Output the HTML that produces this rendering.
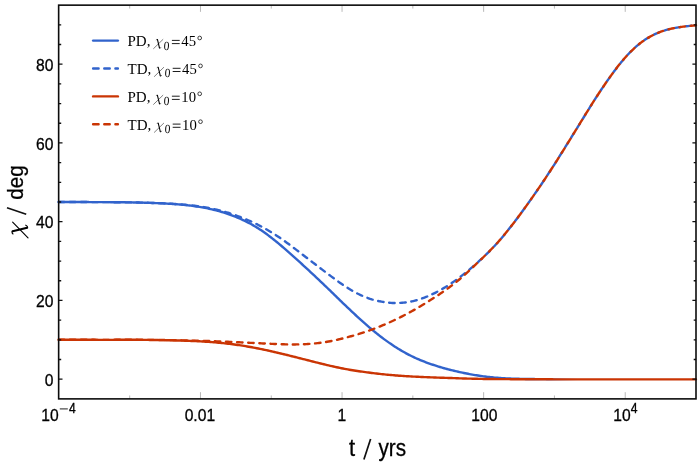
<!DOCTYPE html>
<html><head><meta charset="utf-8"><title>chart</title>
<style>
html,body{margin:0;padding:0;background:#fff;}
svg{display:block;will-change:transform;font-family:"Liberation Sans",sans-serif;}
.c{fill:none;stroke-width:2.4;stroke-linecap:round;stroke-linejoin:round;}
.d{stroke-dasharray:5.5 5.65;}
.yt{stroke:#111;stroke-width:1.3;fill:none;}
.xt{stroke:#8a8a8a;stroke-width:0.6;fill:none;}
.tl{fill:#000;stroke:#000;stroke-width:0.3px;}
.lg{font-family:"Liberation Serif",serif;fill:#000;}
.al{fill:#000;stroke:#000;stroke-width:0.3px;}
</style></head><body>
<svg width="698" height="463" viewBox="0 0 698 463">
<rect x="0" y="0" width="698" height="463" fill="#fff"/>


<defs><linearGradient id="bg" gradientUnits="userSpaceOnUse" x1="535" y1="0" x2="578" y2="0"><stop offset="0" stop-color="#3163cc" stop-opacity="1"/><stop offset="1" stop-color="#3163cc" stop-opacity="0"/></linearGradient></defs>
<path d="M58.70,202.00 L60.11,202.00 L61.51,202.00 L62.92,202.01 L64.33,202.01 L65.73,202.01 L67.14,202.02 L68.55,202.02 L69.95,202.02 L71.36,202.03 L72.77,202.03 L74.17,202.03 L75.58,202.04 L76.99,202.04 L78.39,202.04 L79.80,202.05 L81.21,202.05 L82.62,202.06 L84.02,202.06 L85.43,202.06 L86.84,202.07 L88.24,202.07 L89.65,202.08 L91.06,202.08 L92.46,202.09 L93.87,202.09 L95.28,202.10 L96.68,202.11 L98.09,202.11 L99.50,202.12 L100.90,202.13 L102.31,202.13 L103.72,202.14 L105.12,202.15 L106.53,202.16 L107.94,202.16 L109.34,202.17 L110.75,202.18 L112.16,202.19 L113.56,202.21 L114.97,202.22 L116.38,202.23 L117.78,202.24 L119.19,202.26 L120.60,202.27 L122.00,202.29 L123.41,202.30 L124.82,202.32 L126.22,202.34 L127.63,202.36 L129.04,202.38 L130.45,202.40 L131.85,202.42 L133.26,202.45 L134.67,202.47 L136.07,202.50 L137.48,202.53 L138.89,202.56 L140.29,202.59 L141.70,202.62 L143.11,202.66 L144.51,202.70 L145.92,202.74 L147.33,202.78 L148.73,202.83 L150.14,202.88 L151.55,202.93 L152.95,202.98 L154.36,203.04 L155.77,203.10 L157.17,203.16 L158.58,203.22 L159.99,203.29 L161.39,203.35 L162.80,203.42 L164.21,203.50 L165.61,203.57 L167.02,203.65 L168.43,203.74 L169.83,203.82 L171.24,203.91 L172.65,204.01 L174.05,204.10 L175.46,204.20 L176.87,204.31 L178.28,204.42 L179.68,204.53 L181.09,204.65 L182.50,204.78 L183.90,204.91 L185.31,205.05 L186.72,205.20 L188.12,205.35 L189.53,205.51 L190.94,205.68 L192.34,205.86 L193.75,206.04 L195.16,206.24 L196.56,206.44 L197.97,206.66 L199.38,206.88 L200.78,207.11 L202.19,207.36 L203.60,207.61 L205.00,207.88 L206.41,208.15 L207.82,208.44 L209.22,208.74 L210.63,209.05 L212.04,209.37 L213.44,209.71 L214.85,210.05 L216.26,210.41 L217.66,210.78 L219.07,211.17 L220.48,211.57 L221.88,211.98 L223.29,212.41 L224.70,212.85 L226.11,213.31 L227.51,213.78 L228.92,214.27 L230.33,214.77 L231.73,215.30 L233.14,215.83 L234.55,216.39 L235.95,216.95 L237.36,217.54 L238.77,218.14 L240.17,218.76 L241.58,219.39 L242.99,220.04 L244.39,220.70 L245.80,221.38 L247.21,222.09 L248.61,222.81 L250.02,223.55 L251.43,224.32 L252.83,225.11 L254.24,225.92 L255.65,226.76 L257.05,227.63 L258.46,228.51 L259.87,229.43 L261.27,230.36 L262.68,231.32 L264.09,232.30 L265.49,233.30 L266.90,234.32 L268.31,235.36 L269.72,236.42 L271.12,237.50 L272.53,238.60 L273.94,239.72 L275.34,240.85 L276.75,242.00 L278.16,243.16 L279.56,244.34 L280.97,245.53 L282.38,246.72 L283.78,247.93 L285.19,249.15 L286.60,250.37 L288.00,251.61 L289.41,252.85 L290.82,254.10 L292.22,255.35 L293.63,256.61 L295.04,257.87 L296.44,259.14 L297.85,260.41 L299.26,261.69 L300.66,262.96 L302.07,264.25 L303.48,265.53 L304.88,266.82 L306.29,268.11 L307.70,269.41 L309.10,270.71 L310.51,272.01 L311.92,273.32 L313.32,274.64 L314.73,275.96 L316.14,277.28 L317.55,278.61 L318.95,279.94 L320.36,281.27 L321.77,282.61 L323.17,283.96 L324.58,285.31 L325.99,286.66 L327.39,288.01 L328.80,289.37 L330.21,290.73 L331.61,292.10 L333.02,293.47 L334.43,294.83 L335.83,296.20 L337.24,297.57 L338.65,298.94 L340.05,300.30 L341.46,301.66 L342.87,303.02 L344.27,304.37 L345.68,305.72 L347.09,307.07 L348.49,308.40 L349.90,309.74 L351.31,311.06 L352.71,312.38 L354.12,313.70 L355.53,315.00 L356.93,316.30 L358.34,317.60 L359.75,318.88 L361.15,320.16 L362.56,321.42 L363.97,322.68 L365.38,323.92 L366.78,325.16 L368.19,326.38 L369.60,327.59 L371.00,328.78 L372.41,329.97 L373.82,331.13 L375.22,332.28 L376.63,333.42 L378.04,334.54 L379.44,335.64 L380.85,336.73 L382.26,337.79 L383.66,338.84 L385.07,339.88 L386.48,340.89 L387.88,341.89 L389.29,342.87 L390.70,343.84 L392.10,344.79 L393.51,345.72 L394.92,346.64 L396.32,347.54 L397.73,348.42 L399.14,349.28 L400.54,350.13 L401.95,350.96 L403.36,351.77 L404.76,352.56 L406.17,353.34 L407.58,354.09 L408.98,354.83 L410.39,355.54 L411.80,356.24 L413.21,356.92 L414.61,357.58 L416.02,358.22 L417.43,358.84 L418.83,359.45 L420.24,360.05 L421.65,360.63 L423.05,361.19 L424.46,361.74 L425.87,362.27 L427.27,362.80 L428.68,363.31 L430.09,363.80 L431.49,364.29 L432.90,364.76 L434.31,365.23 L435.71,365.68 L437.12,366.13 L438.53,366.57 L439.93,367.00 L441.34,367.41 L442.75,367.82 L444.15,368.23 L445.56,368.62 L446.97,369.00 L448.37,369.38 L449.78,369.74 L451.19,370.10 L452.59,370.45 L454.00,370.79 L455.41,371.12 L456.82,371.44 L458.22,371.75 L459.63,372.06 L461.04,372.37 L462.44,372.66 L463.85,372.95 L465.26,373.24 L466.66,373.52 L468.07,373.79 L469.48,374.06 L470.88,374.32 L472.29,374.58 L473.70,374.82 L475.10,375.07 L476.51,375.30 L477.92,375.53 L479.32,375.74 L480.73,375.95 L482.14,376.15 L483.54,376.34 L484.95,376.52 L486.36,376.70 L487.76,376.86 L489.17,377.02 L490.58,377.17 L491.98,377.31 L493.39,377.45 L494.80,377.58 L496.20,377.70 L497.61,377.81 L499.02,377.91 L500.42,378.01 L501.83,378.10 L503.24,378.19 L504.65,378.27 L506.05,378.34 L507.46,378.41 L508.87,378.47 L510.27,378.53 L511.68,378.59 L513.09,378.64 L514.49,378.68 L515.90,378.72 L517.31,378.76 L518.71,378.80 L520.12,378.83 L521.53,378.86 L522.93,378.89 L524.34,378.91 L525.75,378.94 L527.15,378.96 L528.56,378.99 L529.97,379.01 L531.37,379.03 L532.78,379.05 L534.19,379.06 L535.59,379.08 L537.00,379.10 L538.41,379.11 L539.81,379.12 L541.22,379.14 L542.63,379.15 L544.03,379.16 L545.44,379.17 L546.85,379.18 L548.25,379.19 L549.66,379.20 L551.07,379.21 L552.48,379.22 L553.88,379.23 L555.29,379.24 L556.70,379.25 L558.10,379.25 L559.51,379.26 L560.92,379.27 L562.32,379.27 L563.73,379.28 L565.14,379.29 L566.54,379.29 L567.95,379.30 L569.36,379.30 L570.76,379.31 L572.17,379.31 L573.58,379.32 L574.98,379.32 L576.39,379.32 L577.80,379.33 L579.20,379.33 L580.61,379.33 L582.02,379.33 L583.42,379.34 L584.83,379.34 L586.24,379.34 L587.64,379.34 L589.05,379.34 L590.46,379.35 L591.86,379.35 L593.27,379.35 L594.68,379.35 L596.08,379.35 L597.49,379.35 L598.90,379.35 L600.31,379.35 L601.71,379.35 L603.12,379.35 L604.53,379.35 L605.93,379.35 L607.34,379.35 L608.75,379.35 L610.15,379.35 L611.56,379.35 L612.97,379.35 L614.37,379.35 L615.78,379.35 L617.19,379.35 L618.59,379.35 L620.00,379.35" stroke="url(#bg)" class="c"/>
<path d="M58.70,202.00 L60.30,202.00 L61.89,202.00 L63.49,202.01 L65.09,202.01 L66.69,202.01 L68.28,202.02 L69.88,202.02 L71.48,202.03 L73.08,202.03 L74.67,202.03 L76.27,202.04 L77.87,202.04 L79.46,202.05 L81.06,202.05 L82.66,202.06 L84.26,202.06 L85.85,202.07 L87.45,202.07 L89.05,202.08 L90.64,202.08 L92.24,202.09 L93.84,202.09 L95.44,202.10 L97.03,202.11 L98.63,202.11 L100.23,202.12 L101.83,202.13 L103.42,202.14 L105.02,202.15 L106.62,202.16 L108.21,202.17 L109.81,202.18 L111.41,202.19 L113.01,202.20 L114.60,202.22 L116.20,202.23 L117.80,202.25 L119.40,202.26 L120.99,202.28 L122.59,202.30 L124.19,202.32 L125.78,202.34 L127.38,202.36 L128.98,202.38 L130.58,202.41 L132.17,202.43 L133.77,202.46 L135.37,202.49 L136.96,202.52 L138.56,202.55 L140.16,202.58 L141.76,202.62 L143.35,202.66 L144.95,202.70 L146.55,202.74 L148.15,202.78 L149.74,202.83 L151.34,202.88 L152.94,202.93 L154.53,202.99 L156.13,203.04 L157.73,203.10 L159.33,203.17 L160.92,203.23 L162.52,203.30 L164.12,203.37 L165.72,203.45 L167.31,203.53 L168.91,203.62 L170.51,203.70 L172.10,203.80 L173.70,203.90 L175.30,204.00 L176.90,204.11 L178.49,204.22 L180.09,204.34 L181.69,204.47 L183.28,204.60 L184.88,204.74 L186.48,204.89 L188.08,205.05 L189.67,205.21 L191.27,205.39 L192.87,205.58 L194.47,205.77 L196.06,205.98 L197.66,206.20 L199.26,206.43 L200.85,206.67 L202.45,206.92 L204.05,207.18 L205.65,207.46 L207.24,207.75 L208.84,208.05 L210.44,208.37 L212.04,208.70 L213.63,209.04 L215.23,209.39 L216.83,209.76 L218.42,210.15 L220.02,210.54 L221.62,210.96 L223.22,211.39 L224.81,211.83 L226.41,212.29 L228.01,212.77 L229.61,213.26 L231.20,213.78 L232.80,214.31 L234.40,214.86 L235.99,215.42 L237.59,216.01 L239.19,216.60 L240.79,217.21 L242.38,217.84 L243.98,218.48 L245.58,219.13 L247.17,219.81 L248.77,220.49 L250.37,221.20 L251.97,221.92 L253.56,222.66 L255.16,223.42 L256.76,224.20 L258.36,225.00 L259.95,225.82 L261.55,226.66 L263.15,227.52 L264.74,228.40 L266.34,229.30 L267.94,230.22 L269.54,231.17 L271.13,232.14 L272.73,233.13 L274.33,234.14 L275.93,235.17 L277.52,236.22 L279.12,237.29 L280.72,238.38 L282.31,239.49 L283.91,240.61 L285.51,241.75 L287.11,242.91 L288.70,244.08 L290.30,245.26 L291.90,246.45 L293.49,247.66 L295.09,248.86 L296.69,250.08 L298.29,251.30 L299.88,252.52 L301.48,253.75 L303.08,254.98 L304.68,256.20 L306.27,257.43 L307.87,258.66 L309.47,259.89 L311.06,261.12 L312.66,262.34 L314.26,263.56 L315.86,264.78 L317.45,265.99 L319.05,267.21 L320.65,268.42 L322.25,269.63 L323.84,270.84 L325.44,272.05 L327.04,273.25 L328.63,274.46 L330.23,275.66 L331.83,276.86 L333.43,278.04 L335.02,279.22 L336.62,280.38 L338.22,281.53 L339.81,282.67 L341.41,283.78 L343.01,284.88 L344.61,285.95 L346.20,286.99 L347.80,288.02 L349.40,289.01 L351.00,289.97 L352.59,290.90 L354.19,291.80 L355.79,292.67 L357.38,293.50 L358.98,294.29 L360.58,295.04 L362.18,295.76 L363.77,296.44 L365.37,297.08 L366.97,297.69 L368.57,298.26 L370.16,298.80 L371.76,299.30 L373.36,299.76 L374.95,300.20 L376.55,300.59 L378.15,300.96 L379.75,301.30 L381.34,301.60 L382.94,301.88 L384.54,302.13 L386.13,302.35 L387.73,302.54 L389.33,302.70 L390.93,302.83 L392.52,302.93 L394.12,302.99 L395.72,303.03 L397.32,303.02 L398.91,302.99 L400.51,302.91 L402.11,302.80 L403.70,302.66 L405.30,302.48 L406.90,302.27 L408.50,302.02 L410.09,301.73 L411.69,301.41 L413.29,301.05 L414.89,300.66 L416.48,300.24 L418.08,299.78 L419.68,299.28 L421.27,298.75 L422.87,298.19 L424.47,297.59 L426.07,296.96 L427.66,296.30 L429.26,295.61 L430.86,294.89 L432.45,294.14 L434.05,293.36 L435.65,292.56 L437.25,291.72 L438.84,290.87 L440.44,289.99 L442.04,289.08 L443.64,288.15 L445.23,287.19 L446.83,286.21 L448.43,285.20 L450.02,284.16 L451.62,283.09 L453.22,282.00 L454.82,280.88 L456.41,279.74 L458.01,278.57 L459.61,277.37 L461.21,276.15 L462.80,274.92 L464.40,273.65 L466.00,272.37 L467.59,271.07 L469.19,269.76 L470.79,268.42 L472.39,267.06 L473.98,265.68 L475.58,264.28 L477.18,262.87 L478.77,261.43 L480.37,259.97 L481.97,258.49 L483.57,256.99 L485.16,255.46 L486.76,253.91 L488.36,252.33 L489.96,250.73 L491.55,249.10 L493.15,247.44 L494.75,245.75 L496.34,244.03 L497.94,242.26 L499.54,240.46 L501.14,238.61 L502.73,236.73 L504.33,234.80 L505.93,232.85 L507.53,230.86 L509.12,228.85 L510.72,226.82 L512.32,224.76 L513.91,222.68 L515.51,220.58 L517.11,218.46 L518.71,216.32 L520.30,214.16 L521.90,211.99 L523.50,209.80 L525.09,207.60 L526.69,205.38 L528.29,203.14 L529.89,200.90 L531.48,198.63 L533.08,196.35 L534.68,194.06 L536.28,191.75 L537.87,189.43 L539.47,187.09 L541.07,184.73 L542.66,182.36 L544.26,179.97 L545.86,177.56 L547.46,175.14 L549.05,172.70 L550.65,170.24 L552.25,167.77 L553.85,165.29 L555.44,162.79 L557.04,160.27 L558.64,157.75 L560.23,155.21 L561.83,152.66 L563.43,150.11 L565.03,147.54 L566.62,144.97 L568.22,142.40 L569.82,139.82 L571.42,137.24 L573.01,134.65 L574.61,132.07 L576.21,129.48 L577.80,126.88 L579.40,124.29 L581.00,121.69 L582.60,119.09 L584.19,116.50 L585.79,113.91 L587.39,111.32 L588.98,108.76 L590.58,106.20 L592.18,103.67 L593.78,101.16 L595.37,98.67 L596.97,96.20 L598.57,93.75 L600.17,91.32 L601.76,88.93 L603.36,86.55 L604.96,84.20 L606.55,81.88 L608.15,79.59 L609.75,77.33 L611.35,75.10 L612.94,72.91 L614.54,70.76 L616.14,68.65 L617.74,66.58 L619.33,64.56 L620.93,62.58 L622.53,60.66 L624.12,58.79 L625.72,56.97 L627.32,55.21 L628.92,53.51 L630.51,51.87 L632.11,50.29 L633.71,48.77 L635.30,47.31 L636.90,45.91 L638.50,44.58 L640.10,43.30 L641.69,42.09 L643.29,40.94 L644.89,39.85 L646.49,38.82 L648.08,37.84 L649.68,36.91 L651.28,36.03 L652.87,35.20 L654.47,34.42 L656.07,33.69 L657.67,33.00 L659.26,32.35 L660.86,31.74 L662.46,31.17 L664.06,30.64 L665.65,30.15 L667.25,29.70 L668.85,29.28 L670.44,28.89 L672.04,28.53 L673.64,28.20 L675.24,27.89 L676.83,27.61 L678.43,27.35 L680.03,27.10 L681.62,26.88 L683.22,26.66 L684.82,26.46 L686.42,26.27 L688.01,26.09 L689.61,25.92 L691.21,25.76 L692.81,25.60 L694.40,25.44 L696.00,25.28" stroke="#3163cc" class="c d"/>
<path d="M58.70,339.80 L60.30,339.80 L61.89,339.80 L63.49,339.80 L65.09,339.80 L66.69,339.80 L68.28,339.80 L69.88,339.80 L71.48,339.80 L73.08,339.80 L74.67,339.80 L76.27,339.80 L77.87,339.80 L79.46,339.80 L81.06,339.80 L82.66,339.80 L84.26,339.81 L85.85,339.81 L87.45,339.81 L89.05,339.81 L90.64,339.82 L92.24,339.82 L93.84,339.82 L95.44,339.82 L97.03,339.83 L98.63,339.83 L100.23,339.83 L101.83,339.83 L103.42,339.83 L105.02,339.83 L106.62,339.83 L108.21,339.83 L109.81,339.83 L111.41,339.83 L113.01,339.83 L114.60,339.83 L116.20,339.82 L117.80,339.82 L119.40,339.82 L120.99,339.81 L122.59,339.81 L124.19,339.81 L125.78,339.81 L127.38,339.80 L128.98,339.80 L130.58,339.81 L132.17,339.81 L133.77,339.81 L135.37,339.82 L136.96,339.82 L138.56,339.83 L140.16,339.84 L141.76,339.86 L143.35,339.87 L144.95,339.88 L146.55,339.90 L148.15,339.92 L149.74,339.94 L151.34,339.96 L152.94,339.98 L154.53,340.00 L156.13,340.03 L157.73,340.05 L159.33,340.08 L160.92,340.10 L162.52,340.13 L164.12,340.16 L165.72,340.19 L167.31,340.22 L168.91,340.25 L170.51,340.29 L172.10,340.33 L173.70,340.36 L175.30,340.40 L176.90,340.44 L178.49,340.49 L180.09,340.54 L181.69,340.58 L183.28,340.63 L184.88,340.69 L186.48,340.74 L188.08,340.80 L189.67,340.87 L191.27,340.93 L192.87,341.00 L194.47,341.07 L196.06,341.15 L197.66,341.23 L199.26,341.31 L200.85,341.40 L202.45,341.49 L204.05,341.59 L205.65,341.69 L207.24,341.80 L208.84,341.91 L210.44,342.03 L212.04,342.15 L213.63,342.28 L215.23,342.41 L216.83,342.55 L218.42,342.70 L220.02,342.85 L221.62,343.01 L223.22,343.17 L224.81,343.34 L226.41,343.52 L228.01,343.70 L229.61,343.89 L231.20,344.09 L232.80,344.29 L234.40,344.51 L235.99,344.72 L237.59,344.95 L239.19,345.18 L240.79,345.42 L242.38,345.67 L243.98,345.93 L245.58,346.19 L247.17,346.46 L248.77,346.73 L250.37,347.01 L251.97,347.30 L253.56,347.60 L255.16,347.90 L256.76,348.21 L258.36,348.52 L259.95,348.84 L261.55,349.17 L263.15,349.50 L264.74,349.84 L266.34,350.18 L267.94,350.53 L269.54,350.89 L271.13,351.24 L272.73,351.61 L274.33,351.98 L275.93,352.35 L277.52,352.72 L279.12,353.10 L280.72,353.48 L282.31,353.87 L283.91,354.26 L285.51,354.65 L287.11,355.04 L288.70,355.43 L290.30,355.83 L291.90,356.23 L293.49,356.63 L295.09,357.03 L296.69,357.43 L298.29,357.84 L299.88,358.24 L301.48,358.65 L303.08,359.06 L304.68,359.46 L306.27,359.87 L307.87,360.28 L309.47,360.68 L311.06,361.09 L312.66,361.50 L314.26,361.90 L315.86,362.31 L317.45,362.71 L319.05,363.11 L320.65,363.50 L322.25,363.90 L323.84,364.28 L325.44,364.67 L327.04,365.05 L328.63,365.43 L330.23,365.80 L331.83,366.16 L333.43,366.52 L335.02,366.87 L336.62,367.22 L338.22,367.55 L339.81,367.89 L341.41,368.21 L343.01,368.53 L344.61,368.83 L346.20,369.13 L347.80,369.42 L349.40,369.71 L351.00,369.98 L352.59,370.24 L354.19,370.50 L355.79,370.75 L357.38,370.99 L358.98,371.22 L360.58,371.45 L362.18,371.67 L363.77,371.89 L365.37,372.11 L366.97,372.32 L368.57,372.53 L370.16,372.74 L371.76,372.94 L373.36,373.14 L374.95,373.33 L376.55,373.52 L378.15,373.71 L379.75,373.89 L381.34,374.07 L382.94,374.24 L384.54,374.41 L386.13,374.57 L387.73,374.73 L389.33,374.88 L390.93,375.03 L392.52,375.17 L394.12,375.31 L395.72,375.44 L397.32,375.57 L398.91,375.69 L400.51,375.81 L402.11,375.92 L403.70,376.02 L405.30,376.13 L406.90,376.23 L408.50,376.32 L410.09,376.41 L411.69,376.50 L413.29,376.58 L414.89,376.66 L416.48,376.74 L418.08,376.82 L419.68,376.89 L421.27,376.96 L422.87,377.03 L424.47,377.10 L426.07,377.16 L427.66,377.22 L429.26,377.29 L430.86,377.35 L432.45,377.41 L434.05,377.46 L435.65,377.52 L437.25,377.58 L438.84,377.63 L440.44,377.69 L442.04,377.74 L443.64,377.80 L445.23,377.85 L446.83,377.90 L448.43,377.96 L450.02,378.01 L451.62,378.06 L453.22,378.12 L454.82,378.17 L456.41,378.23 L458.01,378.28 L459.61,378.33 L461.21,378.39 L462.80,378.44 L464.40,378.49 L466.00,378.54 L467.59,378.58 L469.19,378.63 L470.79,378.67 L472.39,378.71 L473.98,378.75 L475.58,378.79 L477.18,378.82 L478.77,378.85 L480.37,378.88 L481.97,378.91 L483.57,378.94 L485.16,378.96 L486.76,378.98 L488.36,379.00 L489.96,379.02 L491.55,379.04 L493.15,379.05 L494.75,379.07 L496.34,379.08 L497.94,379.09 L499.54,379.11 L501.14,379.12 L502.73,379.13 L504.33,379.14 L505.93,379.15 L507.53,379.16 L509.12,379.17 L510.72,379.18 L512.32,379.19 L513.91,379.20 L515.51,379.21 L517.11,379.22 L518.71,379.22 L520.30,379.23 L521.90,379.24 L523.50,379.24 L525.09,379.25 L526.69,379.26 L528.29,379.26 L529.89,379.27 L531.48,379.27 L533.08,379.28 L534.68,379.28 L536.28,379.29 L537.87,379.29 L539.47,379.30 L541.07,379.30 L542.66,379.31 L544.26,379.31 L545.86,379.31 L547.46,379.32 L549.05,379.32 L550.65,379.32 L552.25,379.32 L553.85,379.33 L555.44,379.33 L557.04,379.33 L558.64,379.33 L560.23,379.34 L561.83,379.34 L563.43,379.34 L565.03,379.34 L566.62,379.34 L568.22,379.34 L569.82,379.35 L571.42,379.35 L573.01,379.35 L574.61,379.35 L576.21,379.35 L577.80,379.35 L579.40,379.35 L581.00,379.35 L582.60,379.35 L584.19,379.35 L585.79,379.35 L587.39,379.35 L588.98,379.35 L590.58,379.35 L592.18,379.35 L593.78,379.35 L595.37,379.35 L596.97,379.35 L598.57,379.35 L600.17,379.35 L601.76,379.35 L603.36,379.35 L604.96,379.35 L606.55,379.35 L608.15,379.35 L609.75,379.35 L611.35,379.35 L612.94,379.35 L614.54,379.35 L616.14,379.35 L617.74,379.35 L619.33,379.35 L620.93,379.35 L622.53,379.35 L624.12,379.35 L625.72,379.35 L627.32,379.35 L628.92,379.35 L630.51,379.35 L632.11,379.35 L633.71,379.35 L635.30,379.35 L636.90,379.35 L638.50,379.35 L640.10,379.35 L641.69,379.35 L643.29,379.35 L644.89,379.35 L646.49,379.35 L648.08,379.35 L649.68,379.35 L651.28,379.35 L652.87,379.35 L654.47,379.35 L656.07,379.35 L657.67,379.35 L659.26,379.35 L660.86,379.35 L662.46,379.35 L664.06,379.35 L665.65,379.35 L667.25,379.35 L668.85,379.35 L670.44,379.35 L672.04,379.35 L673.64,379.35 L675.24,379.35 L676.83,379.35 L678.43,379.35 L680.03,379.35 L681.62,379.35 L683.22,379.35 L684.82,379.35 L686.42,379.35 L688.01,379.35 L689.61,379.35 L691.21,379.35 L692.81,379.35 L694.40,379.35 L696.00,379.35" stroke="#ca3504" class="c"/>
<path d="M58.70,339.80 L60.30,339.80 L61.89,339.80 L63.49,339.80 L65.09,339.80 L66.69,339.80 L68.28,339.80 L69.88,339.80 L71.48,339.80 L73.08,339.80 L74.67,339.80 L76.27,339.80 L77.87,339.80 L79.46,339.80 L81.06,339.80 L82.66,339.81 L84.26,339.81 L85.85,339.81 L87.45,339.81 L89.05,339.81 L90.64,339.82 L92.24,339.82 L93.84,339.82 L95.44,339.83 L97.03,339.83 L98.63,339.83 L100.23,339.83 L101.83,339.83 L103.42,339.84 L105.02,339.84 L106.62,339.83 L108.21,339.83 L109.81,339.83 L111.41,339.83 L113.01,339.82 L114.60,339.82 L116.20,339.81 L117.80,339.81 L119.40,339.80 L120.99,339.79 L122.59,339.79 L124.19,339.78 L125.78,339.78 L127.38,339.77 L128.98,339.77 L130.58,339.77 L132.17,339.77 L133.77,339.77 L135.37,339.77 L136.96,339.78 L138.56,339.78 L140.16,339.79 L141.76,339.80 L143.35,339.81 L144.95,339.82 L146.55,339.84 L148.15,339.85 L149.74,339.87 L151.34,339.88 L152.94,339.90 L154.53,339.92 L156.13,339.94 L157.73,339.96 L159.33,339.98 L160.92,340.00 L162.52,340.02 L164.12,340.04 L165.72,340.07 L167.31,340.09 L168.91,340.11 L170.51,340.14 L172.10,340.16 L173.70,340.19 L175.30,340.22 L176.90,340.24 L178.49,340.27 L180.09,340.30 L181.69,340.33 L183.28,340.37 L184.88,340.40 L186.48,340.43 L188.08,340.47 L189.67,340.51 L191.27,340.55 L192.87,340.59 L194.47,340.63 L196.06,340.67 L197.66,340.71 L199.26,340.76 L200.85,340.81 L202.45,340.85 L204.05,340.90 L205.65,340.95 L207.24,341.01 L208.84,341.06 L210.44,341.11 L212.04,341.17 L213.63,341.22 L215.23,341.28 L216.83,341.34 L218.42,341.40 L220.02,341.46 L221.62,341.53 L223.22,341.59 L224.81,341.66 L226.41,341.72 L228.01,341.79 L229.61,341.86 L231.20,341.93 L232.80,342.00 L234.40,342.07 L235.99,342.14 L237.59,342.21 L239.19,342.29 L240.79,342.36 L242.38,342.44 L243.98,342.52 L245.58,342.59 L247.17,342.67 L248.77,342.75 L250.37,342.83 L251.97,342.91 L253.56,342.98 L255.16,343.06 L256.76,343.14 L258.36,343.22 L259.95,343.30 L261.55,343.38 L263.15,343.46 L264.74,343.54 L266.34,343.61 L267.94,343.69 L269.54,343.76 L271.13,343.83 L272.73,343.90 L274.33,343.97 L275.93,344.03 L277.52,344.09 L279.12,344.15 L280.72,344.20 L282.31,344.25 L283.91,344.30 L285.51,344.34 L287.11,344.37 L288.70,344.40 L290.30,344.42 L291.90,344.43 L293.49,344.44 L295.09,344.43 L296.69,344.42 L298.29,344.40 L299.88,344.36 L301.48,344.32 L303.08,344.26 L304.68,344.19 L306.27,344.10 L307.87,344.01 L309.47,343.90 L311.06,343.78 L312.66,343.64 L314.26,343.50 L315.86,343.34 L317.45,343.16 L319.05,342.98 L320.65,342.77 L322.25,342.55 L323.84,342.32 L325.44,342.07 L327.04,341.80 L328.63,341.52 L330.23,341.22 L331.83,340.91 L333.43,340.58 L335.02,340.24 L336.62,339.89 L338.22,339.52 L339.81,339.15 L341.41,338.76 L343.01,338.36 L344.61,337.95 L346.20,337.53 L347.80,337.11 L349.40,336.67 L351.00,336.23 L352.59,335.78 L354.19,335.33 L355.79,334.86 L357.38,334.39 L358.98,333.90 L360.58,333.41 L362.18,332.90 L363.77,332.39 L365.37,331.86 L366.97,331.33 L368.57,330.78 L370.16,330.21 L371.76,329.64 L373.36,329.05 L374.95,328.44 L376.55,327.83 L378.15,327.20 L379.75,326.55 L381.34,325.90 L382.94,325.23 L384.54,324.55 L386.13,323.86 L387.73,323.16 L389.33,322.45 L390.93,321.73 L392.52,321.00 L394.12,320.25 L395.72,319.50 L397.32,318.73 L398.91,317.95 L400.51,317.16 L402.11,316.36 L403.70,315.54 L405.30,314.71 L406.90,313.87 L408.50,313.02 L410.09,312.15 L411.69,311.27 L413.29,310.37 L414.89,309.47 L416.48,308.54 L418.08,307.61 L419.68,306.67 L421.27,305.71 L422.87,304.74 L424.47,303.77 L426.07,302.78 L427.66,301.79 L429.26,300.79 L430.86,299.79 L432.45,298.77 L434.05,297.75 L435.65,296.73 L437.25,295.69 L438.84,294.63 L440.44,293.57 L442.04,292.49 L443.64,291.39 L445.23,290.27 L446.83,289.14 L448.43,287.98 L450.02,286.81 L451.62,285.61 L453.22,284.38 L454.82,283.13 L456.41,281.85 L458.01,280.55 L459.61,279.22 L461.21,277.85 L462.80,276.46 L464.40,275.05 L466.00,273.61 L467.59,272.14 L469.19,270.66 L470.79,269.17 L472.39,267.66 L473.98,266.15 L475.58,264.63 L477.18,263.11 L478.77,261.59 L480.37,260.07 L481.97,258.53 L483.57,256.99 L485.16,255.43 L486.76,253.86 L488.36,252.27 L489.96,250.67 L491.55,249.03 L493.15,247.38 L494.75,245.69 L496.34,243.97 L497.94,242.22 L499.54,240.42 L501.14,238.58 L502.73,236.70 L504.33,234.78 L505.93,232.83 L507.53,230.85 L509.12,228.85 L510.72,226.81 L512.32,224.76 L513.91,222.68 L515.51,220.58 L517.11,218.46 L518.71,216.32 L520.30,214.17 L521.90,212.00 L523.50,209.81 L525.09,207.60 L526.69,205.38 L528.29,203.15 L529.89,200.90 L531.48,198.64 L533.08,196.36 L534.68,194.06 L536.28,191.75 L537.87,189.43 L539.47,187.09 L541.07,184.73 L542.66,182.36 L544.26,179.97 L545.86,177.56 L547.46,175.14 L549.05,172.70 L550.65,170.24 L552.25,167.77 L553.85,165.29 L555.44,162.79 L557.04,160.27 L558.64,157.75 L560.23,155.21 L561.83,152.66 L563.43,150.11 L565.03,147.54 L566.62,144.97 L568.22,142.40 L569.82,139.82 L571.42,137.24 L573.01,134.65 L574.61,132.07 L576.21,129.48 L577.80,126.88 L579.40,124.29 L581.00,121.69 L582.60,119.09 L584.19,116.50 L585.79,113.91 L587.39,111.32 L588.98,108.76 L590.58,106.20 L592.18,103.67 L593.78,101.16 L595.37,98.67 L596.97,96.20 L598.57,93.75 L600.17,91.33 L601.76,88.93 L603.36,86.55 L604.96,84.20 L606.55,81.88 L608.15,79.59 L609.75,77.33 L611.35,75.10 L612.94,72.91 L614.54,70.76 L616.14,68.65 L617.74,66.58 L619.33,64.56 L620.93,62.58 L622.53,60.66 L624.12,58.79 L625.72,56.97 L627.32,55.21 L628.92,53.51 L630.51,51.87 L632.11,50.29 L633.71,48.77 L635.30,47.31 L636.90,45.91 L638.50,44.58 L640.10,43.30 L641.69,42.09 L643.29,40.94 L644.89,39.85 L646.49,38.82 L648.08,37.84 L649.68,36.91 L651.28,36.03 L652.87,35.20 L654.47,34.42 L656.07,33.69 L657.67,33.00 L659.26,32.35 L660.86,31.74 L662.46,31.17 L664.06,30.64 L665.65,30.15 L667.25,29.70 L668.85,29.28 L670.44,28.89 L672.04,28.53 L673.64,28.20 L675.24,27.89 L676.83,27.61 L678.43,27.35 L680.03,27.10 L681.62,26.88 L683.22,26.66 L684.82,26.46 L686.42,26.27 L688.01,26.09 L689.61,25.92 L691.21,25.76 L692.81,25.60 L694.40,25.44 L696.00,25.28" stroke="#ca3504" class="c d"/>

<path d="M58.9,379.20h3.6M696.0,379.20h-3.6" class="yt"/>
<path d="M58.9,359.51h2.3M696.0,359.51h-2.3" class="yt"/>
<path d="M58.9,339.82h2.3M696.0,339.82h-2.3" class="yt"/>
<path d="M58.9,320.14h2.3M696.0,320.14h-2.3" class="yt"/>
<path d="M58.9,300.45h3.6M696.0,300.45h-3.6" class="yt"/>
<path d="M58.9,280.76h2.3M696.0,280.76h-2.3" class="yt"/>
<path d="M58.9,261.07h2.3M696.0,261.07h-2.3" class="yt"/>
<path d="M58.9,241.39h2.3M696.0,241.39h-2.3" class="yt"/>
<path d="M58.9,221.70h3.6M696.0,221.70h-3.6" class="yt"/>
<path d="M58.9,202.01h2.3M696.0,202.01h-2.3" class="yt"/>
<path d="M58.9,182.32h2.3M696.0,182.32h-2.3" class="yt"/>
<path d="M58.9,162.64h2.3M696.0,162.64h-2.3" class="yt"/>
<path d="M58.9,142.95h3.6M696.0,142.95h-3.6" class="yt"/>
<path d="M58.9,123.26h2.3M696.0,123.26h-2.3" class="yt"/>
<path d="M58.9,103.57h2.3M696.0,103.57h-2.3" class="yt"/>
<path d="M58.9,83.89h2.3M696.0,83.89h-2.3" class="yt"/>
<path d="M58.9,64.20h3.6M696.0,64.20h-3.6" class="yt"/>
<path d="M58.9,44.51h2.3M696.0,44.51h-2.3" class="yt"/>
<path d="M58.9,24.82h2.3M696.0,24.82h-2.3" class="yt"/>
<path d="M129.69,398.88v-3.4M129.69,5.15v3.4" class="xt"/>
<path d="M200.48,398.88v-6.7M200.48,5.15v6.7" class="xt"/>
<path d="M271.27,398.88v-3.4M271.27,5.15v3.4" class="xt"/>
<path d="M342.06,398.88v-6.7M342.06,5.15v6.7" class="xt"/>
<path d="M412.85,398.88v-3.4M412.85,5.15v3.4" class="xt"/>
<path d="M483.64,398.88v-6.7M483.64,5.15v6.7" class="xt"/>
<path d="M554.43,398.88v-3.4M554.43,5.15v3.4" class="xt"/>
<path d="M625.22,398.88v-6.7M625.22,5.15v6.7" class="xt"/>
<rect x="58.65" y="5.15" width="637.35" height="393.73" fill="none" stroke="#0c0c0c" stroke-width="1.6"/>
<text transform="translate(53.40,385.90) scale(0.91,1.0)" font-size="17.2" text-anchor="end" class="tl">0</text>
<text transform="translate(53.40,307.15) scale(0.91,1.0)" font-size="17.2" text-anchor="end" class="tl">20</text>
<text transform="translate(53.40,228.40) scale(0.91,1.0)" font-size="17.2" text-anchor="end" class="tl">40</text>
<text transform="translate(53.40,149.65) scale(0.91,1.0)" font-size="17.2" text-anchor="end" class="tl">60</text>
<text transform="translate(53.40,70.90) scale(0.91,1.0)" font-size="17.2" text-anchor="end" class="tl">80</text>
<text transform="translate(199.88,420.50) scale(0.91,1.0)" font-size="17.2" text-anchor="middle" class="tl">0.01</text>
<text transform="translate(341.96,420.50) scale(0.91,1.0)" font-size="17.2" text-anchor="middle" class="tl">1</text>
<text transform="translate(484.34,420.50) scale(0.91,1.0)" font-size="17.2" text-anchor="middle" class="tl">100</text>
<text transform="translate(41.20,420.50) scale(0.91,1.0)" font-size="17.2" text-anchor="start" class="tl">10</text>
<path d="M59.8,408.9h8.0" stroke="#333" stroke-width="1.1"/>
<text transform="translate(69.00,412.80) scale(0.88,1.0)" font-size="13.8" text-anchor="start" class="tl">4</text>
<text transform="translate(613.20,420.50) scale(0.91,1.0)" font-size="17.2" text-anchor="start" class="tl">10</text>
<text transform="translate(630.80,412.80) scale(0.88,1.0)" font-size="13.8" text-anchor="start" class="tl">4</text>
<path d="M93.1,40.6H117.9" stroke="#3163cc" class="c"/>
<text transform="translate(127.50,46.00) scale(1.0,1.0)" font-size="15" text-anchor="start" class="lg">PD,</text>
<g transform="translate(158.50,43.90) scale(0.6)" fill="none" stroke="#000" stroke-linecap="round" stroke-linejoin="round"><path d="M-8.2,7.8L7.3,-7.3" stroke-width="0.85"/><path d="M-1.8,-7.4L1.7,6.9" stroke-width="1.8"/><path d="M-3.7,-6.7C-3.4,-7.8 -2.4,-8.3 -1.8,-7.4M1.7,6.9C2.3,7.9 3.4,7.2 3.9,6.0" stroke-width="0.9"/></g>
<text transform="translate(163.60,49.50) skewX(-3) scale(0.92,1)" font-size="12.4" class="lg">0</text>
<path d="M171.90,40.40h7.8M171.90,43.60h7.8" stroke="#111" stroke-width="0.95" fill="none"/>
<text transform="translate(181.30,45.90) scale(0.98,1.0)" font-size="15" text-anchor="start" class="lg">45</text>
<circle cx="199.70" cy="38.00" r="1.85" stroke="#111" stroke-width="0.8" fill="none"/>
<path d="M93.1,68.5H117.9" stroke="#3163cc" class="c d"/>
<text transform="translate(127.50,73.90) scale(1.0,1.0)" font-size="15" text-anchor="start" class="lg">TD,</text>
<g transform="translate(159.30,71.80) scale(0.6)" fill="none" stroke="#000" stroke-linecap="round" stroke-linejoin="round"><path d="M-8.2,7.8L7.3,-7.3" stroke-width="0.85"/><path d="M-1.8,-7.4L1.7,6.9" stroke-width="1.8"/><path d="M-3.7,-6.7C-3.4,-7.8 -2.4,-8.3 -1.8,-7.4M1.7,6.9C2.3,7.9 3.4,7.2 3.9,6.0" stroke-width="0.9"/></g>
<text transform="translate(164.40,77.40) skewX(-3) scale(0.92,1)" font-size="12.4" class="lg">0</text>
<path d="M172.70,68.30h7.8M172.70,71.50h7.8" stroke="#111" stroke-width="0.95" fill="none"/>
<text transform="translate(182.10,73.80) scale(0.98,1.0)" font-size="15" text-anchor="start" class="lg">45</text>
<circle cx="200.50" cy="65.90" r="1.85" stroke="#111" stroke-width="0.8" fill="none"/>
<path d="M93.1,96.4H117.9" stroke="#ca3504" class="c"/>
<text transform="translate(127.50,101.80) scale(1.0,1.0)" font-size="15" text-anchor="start" class="lg">PD,</text>
<g transform="translate(158.50,99.70) scale(0.6)" fill="none" stroke="#000" stroke-linecap="round" stroke-linejoin="round"><path d="M-8.2,7.8L7.3,-7.3" stroke-width="0.85"/><path d="M-1.8,-7.4L1.7,6.9" stroke-width="1.8"/><path d="M-3.7,-6.7C-3.4,-7.8 -2.4,-8.3 -1.8,-7.4M1.7,6.9C2.3,7.9 3.4,7.2 3.9,6.0" stroke-width="0.9"/></g>
<text transform="translate(163.60,105.30) skewX(-3) scale(0.92,1)" font-size="12.4" class="lg">0</text>
<path d="M171.90,96.20h7.8M171.90,99.40h7.8" stroke="#111" stroke-width="0.95" fill="none"/>
<text transform="translate(181.30,101.70) scale(0.98,1.0)" font-size="15" text-anchor="start" class="lg">10</text>
<circle cx="199.70" cy="93.80" r="1.85" stroke="#111" stroke-width="0.8" fill="none"/>
<path d="M93.1,124.3H117.9" stroke="#ca3504" class="c d"/>
<text transform="translate(127.50,129.70) scale(1.0,1.0)" font-size="15" text-anchor="start" class="lg">TD,</text>
<g transform="translate(159.30,127.60) scale(0.6)" fill="none" stroke="#000" stroke-linecap="round" stroke-linejoin="round"><path d="M-8.2,7.8L7.3,-7.3" stroke-width="0.85"/><path d="M-1.8,-7.4L1.7,6.9" stroke-width="1.8"/><path d="M-3.7,-6.7C-3.4,-7.8 -2.4,-8.3 -1.8,-7.4M1.7,6.9C2.3,7.9 3.4,7.2 3.9,6.0" stroke-width="0.9"/></g>
<text transform="translate(164.40,133.20) skewX(-3) scale(0.92,1)" font-size="12.4" class="lg">0</text>
<path d="M172.70,124.10h7.8M172.70,127.30h7.8" stroke="#111" stroke-width="0.95" fill="none"/>
<text transform="translate(182.10,129.60) scale(0.98,1.0)" font-size="15" text-anchor="start" class="lg">10</text>
<circle cx="200.50" cy="121.70" r="1.85" stroke="#111" stroke-width="0.8" fill="none"/>
<text transform="translate(349.00,456.00) scale(0.92,1.0)" font-size="24" text-anchor="start" class="al">t</text>
<path d="M363.9,459.4L370.6,439.0" stroke="#111" stroke-width="1.7"/>
<text transform="translate(378.40,456.00) scale(0.865,1.0)" font-size="24" text-anchor="start" class="al">yrs</text>
<g transform="translate(20.23,229.58) rotate(-90)" fill="none" stroke="#000" stroke-linecap="round" stroke-linejoin="round"><path d="M-8.2,7.8L7.4,-7.6" stroke-width="1.15"/><path d="M-1.7,-7.6L1.8,6.9" stroke-width="2.2"/><path d="M-4.4,-7.2C-3.7,-8.3 -2.5,-8.6 -1.7,-7.6M1.8,6.9C2.5,7.9 3.7,7.0 4.4,5.5" stroke-width="1.1"/></g>
<path d="M7.0,207.8L26.2,214.2" stroke="#111" stroke-width="1.7"/>
<text transform="translate(23.40,199.70) rotate(-90) scale(0.915,1)" font-size="22.6" class="al">deg</text>
</svg>
</body></html>
